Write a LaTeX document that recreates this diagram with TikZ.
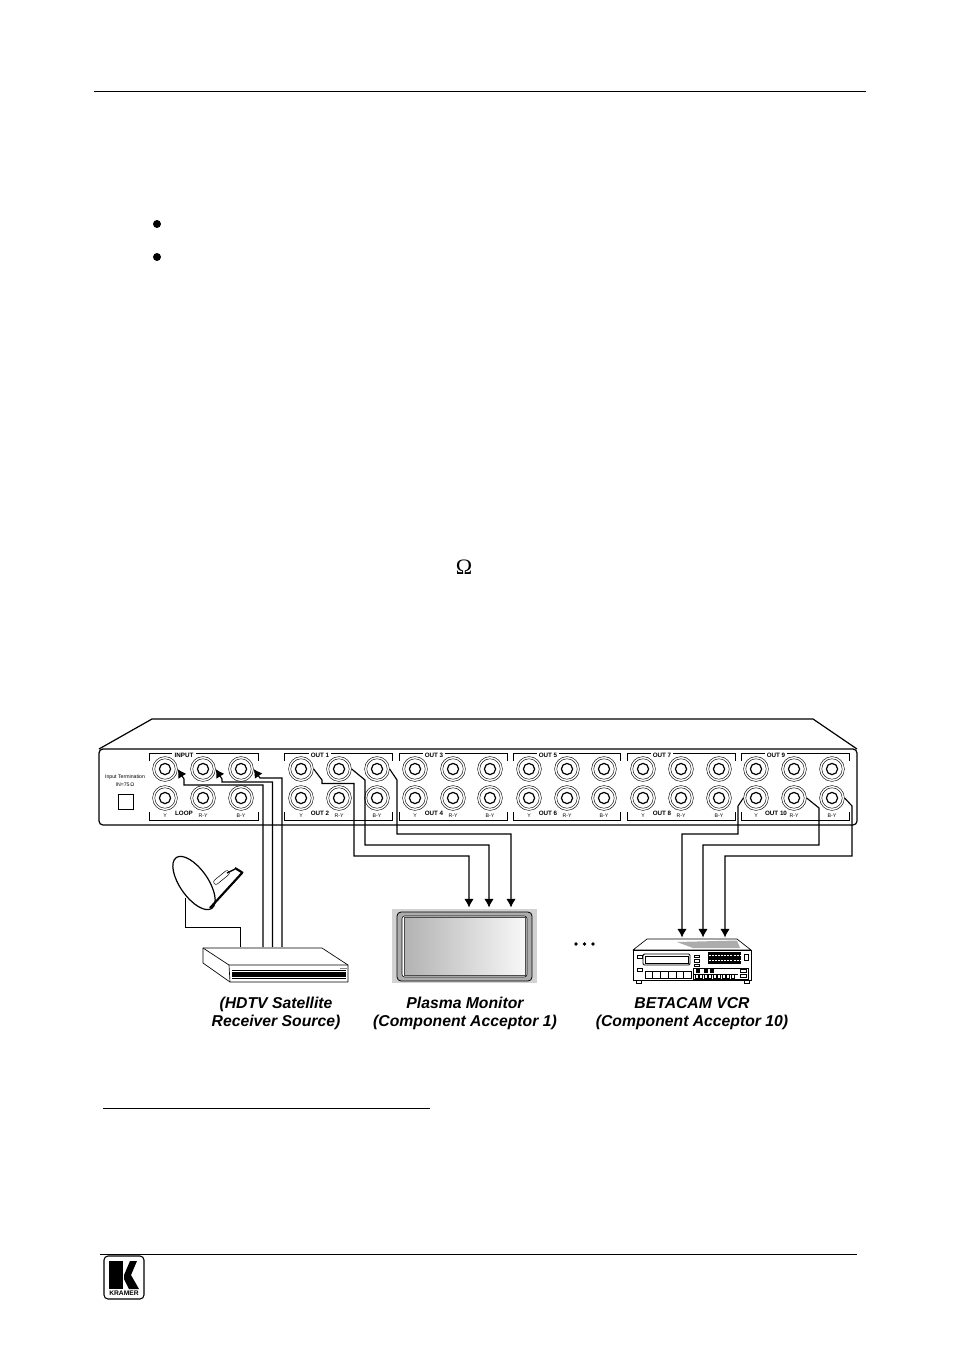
\documentclass[tikz,border=0pt]{standalone}
\usepackage{fontspec}
\setmainfont{Liberation Sans}
\newfontfamily\omegafont{Liberation Serif}
\usetikzlibrary{arrows.meta}

\tikzset{
  rule/.style={line width=0.75pt},
  jack/.style={circle, draw, line width=0.35pt, minimum size=18.6pt, inner sep=0pt},
  bracket/.style={line width=0.5pt},
  wire/.style={line width=0.85pt},
  wirearrow/.style={wire, -{Latex[length=6.4pt,width=7pt]}},
  paneltext/.style={font=\fontsize{3.9}{4}\selectfont, inner sep=0pt},
  groupname/.style={font=\bfseries\fontsize{4.7}{5}\selectfont, inner sep=1.6pt},
  caption/.style={font=\bfseries\itshape\fontsize{11.8}{13.5}\selectfont, align=center, inner sep=0pt}
}

\begin{document}
\begin{tikzpicture}[x=0.75pt, y=-0.75pt]
\useasboundingbox (0,0) rectangle (954,1352);

% Page furniture
\draw[rule] (94,91.5) -- (866,91.5);
\fill (157,224) circle [radius=4];
\fill (157,257) circle [radius=4];
\node[inner sep=0pt] (ohm) at (464,567) {\omegafont\fontsize{16.5}{16.5}\selectfont Ω};
\draw[line width=0.6pt] (103,1108) -- (430,1108);
\draw[rule] (100,1254) -- (857,1254);

% Kramer logo
\draw[line width=0.8pt, rounded corners=3] (104,1256) rectangle (144,1299);
\fill (109,1261) rectangle (123,1289);
\fill (124,1275) -- (130,1261) -- (137,1261) -- (131,1275) -- (139,1289) -- (129,1289) -- (124,1279) -- cycle;
\node[inner sep=0pt, font=\bfseries\fontsize{5}{5}\selectfont] (kramer) at (124,1293) {KRAMER};

% Rear panel of the switcher
\draw[line width=0.9pt, line join=round] (99,749) -- (152,719) -- (813,719) -- (857,749);
\draw[line width=0.9pt, rounded corners=3] (99,749) rectangle (857,825);

\node[paneltext] (termtext) at (125,777) {Input Termination};
\node[paneltext] (termohm) at (125,785) {IN=75\,Ω};
\node[draw, line width=0.5pt, minimum size=11.2pt, inner sep=0pt] (termbox) at (125.5,801.5) {};

% Connector groups, top and bottom row
\foreach \grp/\xl/\xr/\xm/\xa/\xb/\xc/\toplab/\botlab in {
    in/149/258/184/165/203/241/INPUT/LOOP,
    oa/284/392/320/301/339/377/OUT 1/OUT 2,
    ob/399/507/434/415/453/490/OUT 3/OUT 4,
    oc/513/620/548/529/567/604/OUT 5/OUT 6,
    od/627/735/662/643/681/719/OUT 7/OUT 8,
    oe/741/849/776/756/794/832/OUT 9/OUT 10}{
  \draw[bracket] (\xl,761) -- (\xl,753) -- (\xr,753) -- (\xr,761);
  \draw[bracket] (\xl,812) -- (\xl,820) -- (\xr,820) -- (\xr,812);
  \node[groupname, fill=white] (\grp top) at (\xm,755) {\toplab};
  \node[groupname] (\grp bot) at (\xm,813) {\botlab};
  \foreach \col/\xx/\collab in {y/\xa/Y, r/\xb/R-Y, b/\xc/B-Y}{
    \node[jack] (\grp\col u) at (\xx,769) {};
    \node[jack] (\grp\col d) at (\xx,798) {};
    \draw[line width=0.35pt] (\xx,769) circle [radius=10.2];
    \draw[line width=0.35pt] (\xx,798) circle [radius=10.2];
    \draw[line width=0.9pt] (\xx,769) circle [radius=5.6];
    \draw[line width=0.9pt] (\xx,798) circle [radius=5.6];
    \node[paneltext] (\grp\col lab) at (\xx,816) {\collab};
  }
}

% Satellite dish
\draw[line width=0.9pt, fill=white] (194,883) ellipse [x radius=31, y radius=14, rotate=-55];
\draw[line width=1.6pt] (210,908) -- (242,873);
\draw[line width=1.6pt] (235,868) -- (243,873);
\draw[line width=0.5pt, double, double distance=3pt, line cap=round] (216,882) -- (227,873);
\draw[line width=1pt] (227,873) -- (235,869);
\coordinate (dishfoot) at (185,898);

% Receiver
\draw[line width=0.5pt, fill=white, line join=round] (203,948) -- (322,948) -- (348,965) -- (348,982) -- (230,982) -- (203,963) -- cycle;
\draw[line width=0.5pt] (203,948) -- (229,965) -- (348,965);
\draw[line width=0.5pt] (229,965) -- (230,982);
\fill (232,970) rectangle (346,970.7);
\fill (232,972) rectangle (346,977);
\fill (232,978) rectangle (346,979);
\fill[gray] (340,968) rectangle (347,969);
\coordinate (rxa) at (263,947);
\coordinate (rxb) at (272.5,947);
\coordinate (rxc) at (282,947);
\coordinate (rxd) at (240,947);

% Plasma monitor
\fill[gray!35] (392,909) rectangle (537,983);
\draw[line width=0.6pt, fill=gray!65, rounded corners=3] (397,912) rectangle (532,981);
\draw[line width=0.4pt, fill=white, rounded corners=2] (402,916) rectangle (527,977);
\shade[left color=gray!60, right color=gray!6, draw=black!70, line width=0.3pt] (404,917.5) rectangle (525,975.5);
\coordinate (plasmaa) at (469,907.5);
\coordinate (plasmab) at (489,907.5);
\coordinate (plasmac) at (511,907.5);

% Dots
\fill (576,944) circle [radius=1.8];
\fill (584.5,944) circle [radius=1.8];
\fill (593,944) circle [radius=1.8];

% VCR
\draw[line width=0.5pt, fill=white, line join=round] (633,950) -- (647,939) -- (737,939) -- (751,950) -- cycle;
\fill[gray!65] (677,942) -- (737,940.5) -- (740,948) -- (693,948) -- cycle;
\draw[line width=0.6pt, fill=white] (633,950) rectangle (751,980);
\draw[line width=0.5pt] (636,980) rectangle (641,983);
\draw[line width=0.5pt] (744,980) rectangle (749,983);
\draw[line width=0.5pt] (637.5,955) rectangle (642,958.5);
\draw[line width=0.5pt] (637.5,968) rectangle (642,971.5);
\draw[line width=0.7pt, rounded corners=1] (643,954) rectangle (690,965);
\draw[line width=0.4pt] (645,956) rectangle (688,963);
\foreach \yy in {955,959.5,964}{
  \draw[line width=0.4pt] (694.5,\yy) rectangle (699,\yy+2.5);
}
\fill (708,952) rectangle (741,964);
\draw[white, line width=0.5pt, dash pattern=on 1.5pt off 0.8pt] (709,955) -- (740,955);
\draw[white, line width=0.5pt, dash pattern=on 1.5pt off 0.8pt] (709,960) -- (740,960);
\draw[line width=0.5pt] (744.5,954) rectangle (748.5,960);
\draw[line width=0.5pt] (645,971) rectangle (691,978);
\foreach \xx in {652,660,668,676,683}{
  \draw[line width=0.4pt] (\xx,971) -- (\xx,978);
}
\draw[line width=0.5pt] (693.5,968) rectangle (748,979);
\foreach \xx in {696,704,710}{
  \fill (\xx,968.5) rectangle (\xx+3.5,972.5);
}
\foreach \xx in {695,699.5,...,735}{
  \draw[line width=0.5pt] (\xx,975) -- (\xx,978.5) -- (\xx+3,978.5) -- (\xx+3,975);
}
\draw[line width=0.7pt] (694,974.5) -- (738,974.5);
\draw[line width=0.4pt] (740,969.5) rectangle (746,972);
\draw[line width=0.4pt] (740,974.5) rectangle (746,977);
\coordinate (vcra) at (682,937.5);
\coordinate (vcrb) at (703,937.5);
\coordinate (vcrc) at (725,937.5);

% Source to input
\draw[line width=0.6pt] (dishfoot) |- (240,927) -- (rxd);
\draw[wirearrow] (rxa) -- (263,785) -- (184,785) -- (184,779) -- (inyu.east);
\draw[wirearrow] (rxb) -- (272.5,782) -- (222,782) -- (222,779) -- (inru.east);
\draw[wirearrow] (rxc) -- (282,778) -- (260,778) -- (inbu.east);

% Out 1 to plasma
\draw[wirearrow] (oayu.east) -- (322,780) -- (322,783.5) -- (354,783.5) -- (354,856) -- (469,856) -- (plasmaa);
\draw[wirearrow] (oaru.east) -- (365,780) -- (365,845) -- (489,845) -- (plasmab);
\draw[wirearrow] (oabu.east) -- (397,780) -- (397,834) -- (511,834) -- (plasmac);

% Out 10 to VCR
\draw[wirearrow] (oeyd.west) -- (738,806) -- (738,834) -- (682,834) -- (vcra);
\draw[wirearrow] (oerd.east) -- (819,808) -- (819,845) -- (703,845) -- (vcrb);
\draw[wirearrow] (oebd.east) -- (852,806) -- (852,856) -- (725,856) -- (vcrc);

% Captions
\node[caption] (rxname) at (276,1013.5) {(HDTV Satellite\\Receiver Source)};
\node[caption] (plasmaname) at (465,1013.5) {Plasma Monitor\\(Component Acceptor 1)};
\node[caption] (vcrname) at (692,1013.5) {BETACAM VCR\\(Component Acceptor 10)};

\end{tikzpicture}
\end{document}
